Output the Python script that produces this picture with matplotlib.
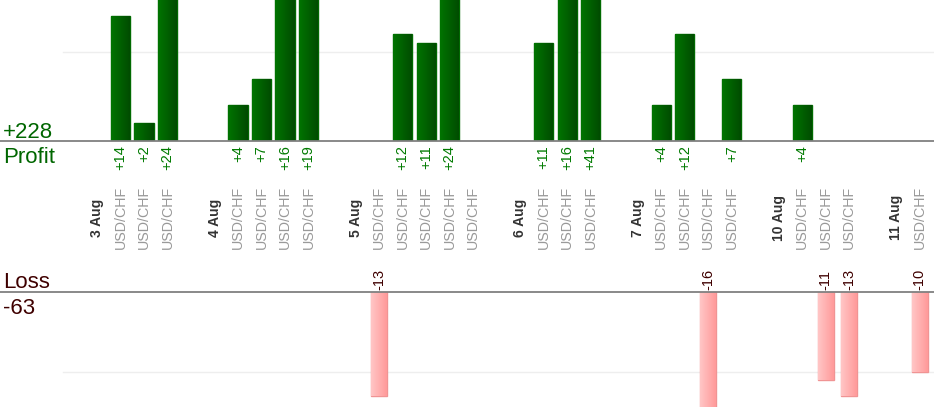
import matplotlib
matplotlib.use("Agg")
import matplotlib.pyplot as plt
import matplotlib.transforms as mtransforms
import numpy as np
from matplotlib.colors import LinearSegmentedColormap

plt.rcParams['font.family'] = ['Liberation Sans', 'DejaVu Sans']

# ---------- data ----------
day_labels = ['3 Aug', '4 Aug', '5 Aug', '6 Aug', '7 Aug', '10 Aug', '11 Aug']
day_trades = [3, 4, 5, 3, 4, 3, 1]
pair = ['USD/CHF'] * 23
profit = [14, 2, 24, 4, 7, 16, 19, 0, 12, 11, 24, 0, 11, 16, 41, 4, 12, 0, 7, 4, 0, 0, 0]
loss = [0, 0, 0, 0, 0, 0, 0, 13, 0, 0, 0, 0, 0, 0, 0, 0, 0, 16, 0, 0, 11, 13, 10]

# ---------- slot layout: blank, day label, trades ... ----------
day_pos = []
trade_pos = []
slot = 0
for n in day_trades:
    slot += 1              # blank gap
    day_pos.append(slot)
    slot += 1
    for k in range(n):
        trade_pos.append(slot)
        slot += 1
trade_pos = np.array(trade_pos)

W, H = 934, 420
fig = plt.figure(figsize=(W / 100, H / 100), dpi=100)
slot_px = 23.51
x_left = -73.5 / slot_px
x_right = (W - 73.5) / slot_px

ax_top = fig.add_axes([0, 1 - 141 / H, 1, 141 / H])
ax_bot = fig.add_axes([0, 1 - 407 / H, 1, 115 / H])

green_cmap = LinearSegmentedColormap.from_list('g', ['#007400', '#004a00'])
red_cmap = LinearSegmentedColormap.from_list('r', ['#ffc6c6', '#ff9a9a'])
grad = np.linspace(0, 1, 64).reshape(1, -1)


def gradient_bars(ax, bars, cmap):
    for b in bars:
        if b.get_height() == 0:
            b.set_visible(False)
            continue
        x0, y0 = b.get_x(), b.get_y()
        x1, y1 = x0 + b.get_width(), y0 + b.get_height()
        im = ax.imshow(grad, cmap=cmap, extent=(x0, x1, min(y0, y1), max(y0, y1)),
                       aspect='auto', zorder=2, interpolation='bilinear')
        # use path + transform so the axes clip box is kept
        im.set_clip_path(b.get_path(), b.get_transform())
        im.set_clip_box(ax.bbox)


# profit panel
p = np.array(profit)
pbars = ax_top.bar(trade_pos, p, width=0.82, color='#006000', edgecolor='#006a00',
                   linewidth=1, zorder=1)
gradient_bars(ax_top, pbars, green_cmap)
ax_top.axhline(10, xmin=63 / W, color='#eeeeee', lw=1, zorder=0)
ax_top.axhline(0, color='#808080', lw=1.3, zorder=3, clip_on=False)
ax_top.set_xlim(x_left, x_right)
ax_top.set_ylim(0, 141 / 8.9)
for x, v in zip(trade_pos, profit):
    if v > 0:
        ax_top.annotate(f'+{v}', (x, 0), xytext=(0, -3), textcoords='offset points',
                        rotation=90, ha='center', va='top', fontsize=10.5,
                        color='#007a00', annotation_clip=False)

# loss panel
l = -np.array(loss)
lbars = ax_bot.bar(trade_pos, l, width=0.68, color='#ffb0b0', edgecolor='#f09494',
                   linewidth=1, zorder=1)
gradient_bars(ax_bot, lbars, red_cmap)
ax_bot.axhline(-10, xmin=63 / W, color='#eeeeee', lw=1, zorder=0)
ax_bot.axhline(0, color='#808080', lw=1.3, zorder=3, clip_on=False)
ax_bot.set_xlim(x_left, x_right)
ax_bot.set_ylim(-115 / 8.0, 0)
for x, v in zip(trade_pos, loss):
    if v > 0:
        ax_bot.annotate(f'-{v}', (x, 0), xytext=(0, 1.5), textcoords='offset points',
                        rotation=90, ha='center', va='bottom', fontsize=10.5,
                        color='#3f0000', annotation_clip=False)

for ax in (ax_top, ax_bot):
    ax.axis('off')

# category labels
trans = mtransforms.blended_transform_factory(ax_top.transData, fig.transFigure)
ylab = 1 - 217.5 / H
for x, name in zip(day_pos, day_labels):
    ax_top.text(x, ylab, name, transform=trans, rotation=90, ha='center', va='center',
                fontsize=10, fontweight='bold', color='#333333', clip_on=False)
for x, name in zip(trade_pos, pair):
    ax_top.text(x, ylab, name, transform=trans, rotation=90, ha='center', va='center',
                fontsize=10.3, color='#999999', clip_on=False)

# totals
fig.text(3 / W, 1 - 138 / H, f'+{sum(profit)}', fontsize=16, color='#006600',
         va='baseline', ha='left')
fig.text(3 / W, 1 - 163 / H, 'Profit', fontsize=16, color='#006600',
         va='baseline', ha='left')
fig.text(3 / W, 1 - 287.5 / H, 'Loss', fontsize=16, color='#3f0000',
         va='baseline', ha='left')
fig.text(3 / W, 1 - 314 / H, f'-{sum(loss)}', fontsize=16, color='#3f0000',
         va='baseline', ha='left')

fig.savefig('out.png', dpi=100)
